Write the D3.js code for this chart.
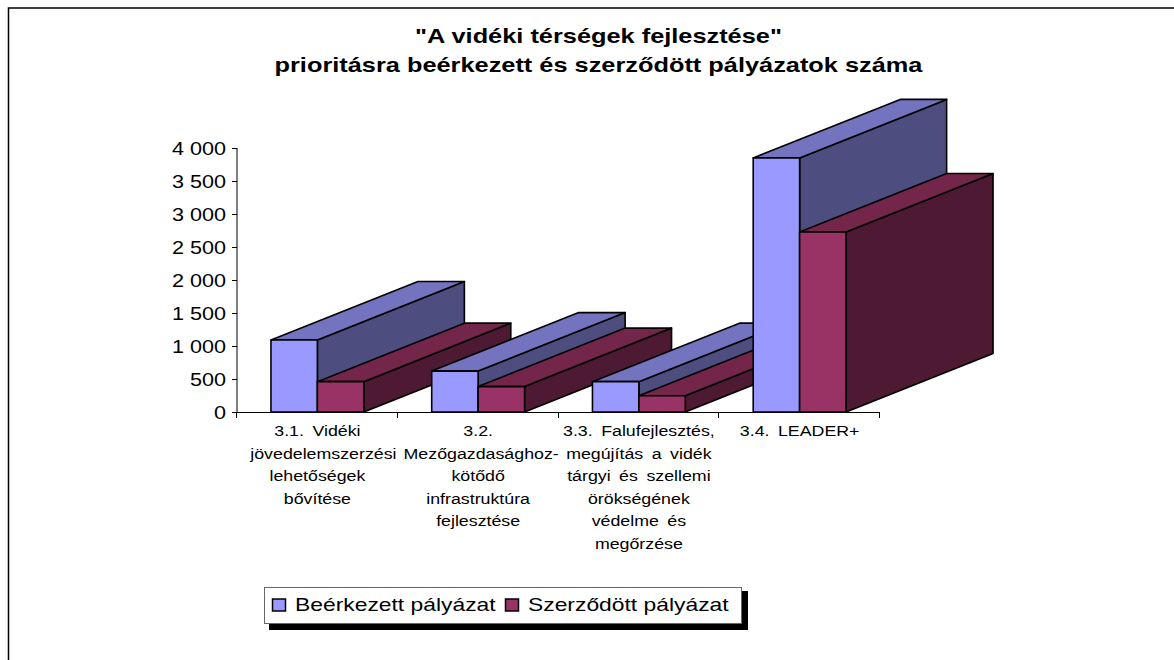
<!DOCTYPE html>
<html><head><meta charset="utf-8">
<script src="https://cdn.jsdelivr.net/npm/d3@7/dist/d3.min.js"></script>
<style>html,body{margin:0;padding:0;background:#fff}svg{display:block}text{font-family:"Liberation Sans",Arial,sans-serif;fill:#000}</style>
</head><body><svg id="c" width="1174" height="660"></svg>
<script>
const titleLines = ['"A vidéki térségek fejlesztése"', 'prioritásra beérkezett és szerződött pályázatok száma'];
const categories = ['3.1', '3.2', '3.3', '3.4'];
const categoryLabels = [
  ['3.1. Vidéki', 'jövedelemszerzési', 'lehetőségek', 'bővítése'],
  ['3.2.', 'Mezőgazdasághoz-', 'kötődő', 'infrastruktúra', 'fejlesztése'],
  ['3.3. Falufejlesztés,', 'megújítás a vidék', 'tárgyi és szellemi', 'örökségének', 'védelme és', 'megőrzése'],
  ['3.4. LEADER+']
];
const seriesNames = ['Beérkezett pályázat', 'Szerződött pályázat'];
const received = [1090, 620, 460, 3850];
const contracted = [460, 385, 247, 2727];
const yTicks = [0, 500, 1000, 1500, 2000, 2500, 3000, 3500, 4000];
const tickLabels = ['0', '500', '1 000', '1 500', '2 000', '2 500', '3 000', '3 500', '4 000'];
const faceColors = [
  {front: '#9999ff', top: '#7373bf', side: '#4d4d80'},
  {front: '#993366', top: '#732649', side: '#4d1933'}
];

const svg = d3.select('#c');
const depthX = 147, depthY = -58.5;
const x0 = d3.scaleBand().domain(categories).range([237, 880]).paddingInner(0.4225).paddingOuter(0.21125);
const x1 = d3.scaleBand().domain([0, 1]).range([0, x0.bandwidth()]);
const y = d3.scaleLinear().domain([0, 4000]).range([412, 148]);

function label(sel, x, yy, txt, size, stretch, anchor, weight) {
  return sel.append('text')
    .attr('transform', `translate(${x},${yy}) scale(${stretch},1)`)
    .attr('text-anchor', anchor || 'middle')
    .attr('font-size', size)
    .attr('font-weight', weight || 'normal')
    .text(txt);
}

// frame: top and left edges only
svg.append('path').attr('d', 'M8.5,660V8H1174').attr('fill', 'none').attr('stroke', '#000').attr('stroke-width', 1.5);

// title
label(svg, 598.5, 43, titleLines[0], 19.5, 1.3, 'middle', 'bold');
label(svg, 598.5, 72, titleLines[1], 19.5, 1.3, 'middle', 'bold');

// axes
const yAxis = d3.axisLeft(y).tickValues(yTicks).tickSize(5).tickFormat('');
const gy = svg.append('g').attr('transform', 'translate(237,0)').call(yAxis);
gy.selectAll('path,line').attr('stroke', '#000').attr('stroke-width', 1);
gy.select('.domain').attr('d', 'M0,148V412');
yTicks.forEach((v, i) => label(svg, 226, y(v) + 6.5, tickLabels[i], 18, 1.2, 'end'));

svg.append('line').attr('x1', 237).attr('x2', 880).attr('y1', 412.5).attr('y2', 412.5).attr('stroke', '#000');
const step = x0.step();
d3.range(categories.length + 1).forEach(i => {
  const tx = Math.round(237 + i * step) - 0.5;
  svg.append('line').attr('x1', tx).attr('x2', tx).attr('y1', 412).attr('y2', 418).attr('stroke', '#000');
});

// bars
const pts = a => a.map(p => p.join(',')).join(' ');
const barStyle = s => s.attr('stroke', '#000').attr('stroke-width', 1.6).attr('stroke-linejoin', 'round');
categories.forEach((c, i) => {
  [received, contracted].forEach((vals, s) => {
    const l = x0(c) + x1(s), r = l + x1.bandwidth(), t = y(vals[i]), b = y(0);
    const col = faceColors[s];
    svg.append('polygon').attr('points', pts([[r, t], [r + depthX, t + depthY], [r + depthX, b + depthY], [r, b]])).attr('fill', col.side).call(barStyle);
    svg.append('polygon').attr('points', pts([[l, t], [l + depthX, t + depthY], [r + depthX, t + depthY], [r, t]])).attr('fill', col.top).call(barStyle);
    svg.append('rect').attr('x', l).attr('y', t).attr('width', r - l).attr('height', b - t).attr('fill', col.front).call(barStyle);
  });
});

// category labels: the two overlong lines sit a little right of centre in the original
const overflowNudge = {'jövedelemszerzési': 6, 'Mezőgazdasághoz-': 3};
categoryLabels.forEach((lines, i) => {
  const cx = x0(categories[i]) + x0.bandwidth() / 2;
  lines.forEach((ln, j) => label(svg, cx + (overflowNudge[ln] || 0), 436 + j * 22.6, ln, 14, 1.27).attr('word-spacing', 2.8));
});

// legend
svg.append('rect').attr('x', 269).attr('y', 591).attr('width', 479).attr('height', 39).attr('fill', '#000');
svg.append('rect').attr('x', 264.5).attr('y', 587.5).attr('width', 477).attr('height', 36).attr('fill', '#fff').attr('stroke', '#666').attr('stroke-width', 1);
[272, 505].forEach((lx, s) => {
  svg.append('rect').attr('x', lx + 0.5).attr('y', 599).attr('width', 13).attr('height', 12).attr('fill', faceColors[s].front).attr('stroke', '#000').attr('stroke-width', 1.5);
  label(svg, lx + 23, 611, seriesNames[s], 18, 1.27, 'start');
});
</script></body></html>
